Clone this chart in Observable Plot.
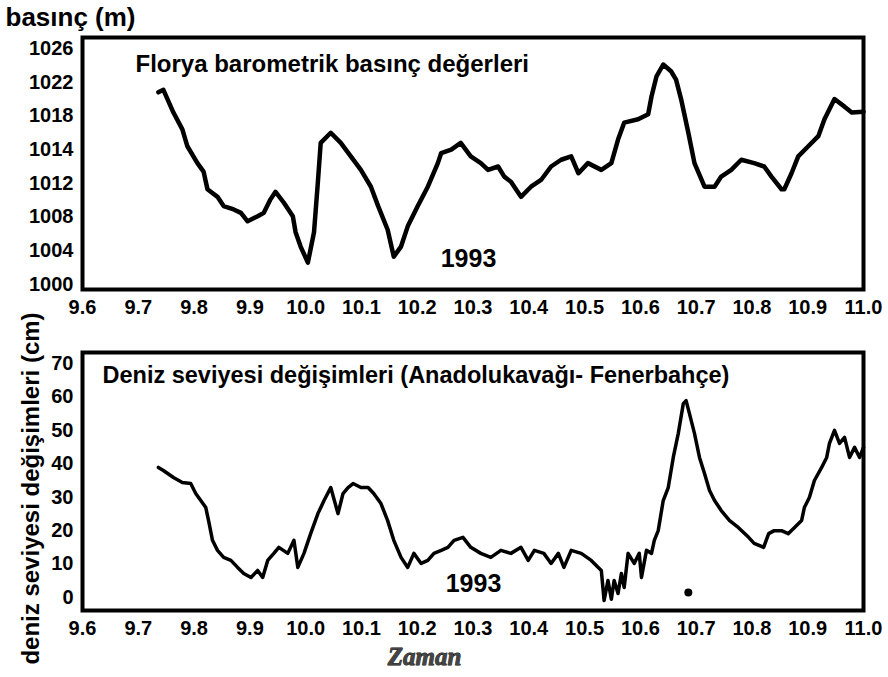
<!DOCTYPE html>
<html><head><meta charset="utf-8">
<script src="https://cdn.jsdelivr.net/npm/d3@7"></script>
<script src="https://cdn.jsdelivr.net/npm/@observablehq/plot@0.6"></script>
<style>
body{margin:0;background:#fff;}
#wrap{position:relative;width:888px;height:677px;background:#fff;overflow:hidden;}
#wrap svg{position:absolute;left:0;}
</style></head><body><div id="wrap"></div>
<script>
const FONT = '"Liberation Sans", Arial, sans-serif';

const xTicks = [9.6, 9.7, 9.8, 9.9, 10.0, 10.1, 10.2, 10.3, 10.4, 10.5, 10.6, 10.7, 10.8, 10.9, 11.0];
const pressureTicks = [1000, 1004, 1008, 1012, 1014, 1018, 1022, 1026];
const seaTicks = [0, 10, 20, 30, 40, 50, 60, 70];

const pressureYLabel = "basınç (m)";
const pressureTitle = "Florya barometrik basınç değerleri";
const seaTitle = "Deniz seviyesi değişimleri (Anadolukavağı- Fenerbahçe)";
const seaYLabel = "deniz seviyesi değişimleri (cm)";
const yearLabel = "1993";
const xLabel = "Zaman";

const pressureTime = [9.736,9.745,9.763,9.779,9.788,9.806,9.817,9.824,9.842,9.853,
 9.871,9.884,9.896,9.914,9.925,9.937,9.946,9.961,9.977,9.982,
 9.991,10.004,10.015,10.022,10.027,10.045,10.063,10.081,10.099,10.117,
 10.130,10.147,10.158,10.171,10.183,10.201,10.219,10.237,10.243,10.261,
 10.278,10.296,10.314,10.327,10.345,10.356,10.368,10.386,10.404,10.422,
 10.440,10.458,10.476,10.489,10.506,10.530,10.548,10.560,10.571,10.596,
 10.614,10.620,10.629,10.641,10.655,10.664,10.673,10.686,10.697,10.715,
 10.733,10.745,10.763,10.781,10.804,10.822,10.835,10.853,10.858,10.871,
 10.883,10.901,10.919,10.930,10.948,10.966,10.979,11.0];
const pressureValue = [1020.8,1021.1,1018.4,1016.4,1014.4,1013.2,1012.7,1011.3,1010.4,1009.3,
 1008.9,1008.5,1007.5,1008.1,1008.5,1010.1,1011.0,1009.7,1008.1,1006.2,
 1004.5,1002.6,1006.2,1012.1,1014.8,1016.0,1014.8,1013.6,1012.8,1011.6,
 1009.3,1006.5,1003.3,1004.5,1006.9,1009.3,1011.6,1013.2,1013.8,1014.0,
 1014.8,1013.6,1013.2,1012.8,1013.0,1012.4,1012.1,1010.4,1011.6,1012.2,
 1013.0,1013.4,1013.6,1012.6,1013.2,1012.8,1013.2,1015.2,1017.2,1017.6,
 1018.2,1020.3,1022.7,1024.1,1023.3,1022.3,1020.0,1016.0,1013.2,1011.6,
 1011.6,1012.4,1012.8,1013.4,1013.2,1013.0,1012.4,1011.3,1011.3,1012.6,
 1013.6,1014.4,1015.6,1017.6,1020.0,1019.1,1018.4,1018.5];

const seaTime = [9.736,9.745,9.763,9.779,9.794,9.803,9.812,9.821,9.826,9.833,
 9.842,9.853,9.866,9.878,9.889,9.902,9.914,9.923,9.932,9.943,
 9.952,9.968,9.979,9.986,9.997,10.009,10.022,10.033,10.045,10.058,
 10.067,10.076,10.085,10.099,10.112,10.122,10.135,10.147,10.158,10.171,
 10.183,10.194,10.207,10.219,10.230,10.243,10.255,10.266,10.282,10.296,
 10.314,10.332,10.350,10.368,10.386,10.399,10.410,10.427,10.440,10.453,
 10.463,10.476,10.494,10.512,10.530,10.535,10.542,10.548,10.553,10.560,
 10.566,10.571,10.578,10.589,10.598,10.602,10.611,10.620,10.625,10.632,
 10.641,10.650,10.659,10.668,10.677,10.682,10.688,10.697,10.706,10.715,
 10.724,10.733,10.745,10.760,10.776,10.794,10.804,10.821,10.830,10.840,
 10.853,10.865,10.876,10.889,10.894,10.903,10.912,10.925,10.934,10.939,
 10.948,10.957,10.966,10.975,10.984,10.993,11.0];
const seaValue = [38.9,38.0,35.9,34.4,34.1,31.1,29.0,26.9,23.0,17.1,
 14.1,12.0,11.1,9.0,7.2,6.0,8.1,6.0,11.1,13.2,
 15.0,13.2,17.1,9.0,13.2,19.1,25.1,29.0,32.9,25.1,
 31.1,32.9,34.1,32.9,32.9,31.1,28.1,23.0,17.1,12.0,
 9.0,13.2,10.2,11.1,13.2,14.1,15.0,17.1,18.0,15.0,
 13.2,12.0,14.1,13.2,15.0,11.1,14.1,13.2,10.2,13.2,
 9.0,14.1,13.2,11.1,8.1,-0.9,5.1,-0.5,5.1,1.2,
 7.2,3.0,13.2,10.2,13.2,6.0,14.1,13.2,17.1,20.0,
 29.0,32.9,41.9,49.1,58.0,58.9,55.0,49.1,41.9,37.1,
 32.0,29.0,26.0,23.0,20.9,18.0,16.2,15.0,19.1,20.0,
 20.0,19.1,20.9,23.0,26.9,29.9,35.0,38.9,41.9,46.1,
 50.0,46.1,47.9,41.9,44.9,41.9,44.9];

const markerTime = [10.686];
const markerValue = [1.5];

const pressure = pressureTime.map((t, i) => ({t, v: pressureValue[i]}));
const sea = seaTime.map((t, i) => ({t, v: seaValue[i]}));
const marker = markerTime.map((t, i) => ({t, v: markerValue[i]}));

// The original axis labels are evenly spaced though their values are not (1012 → 1014):
// map pressure values piecewise onto the tick index, then let Plot scale the index.
const tickIndex = d3.scaleLinear().domain(pressureTicks).range(pressureTicks.map((_, i) => i));
const tickIdx = pressureTicks.map((_, i) => i);

const baseStyle = {fontFamily: FONT, fontWeight: "bold", fontSize: "20px", background: "transparent", color: "black", overflow: "visible"};
const fmt = d => d.toFixed(1);

const p1 = Plot.plot({
  width: 888, height: 320,
  marginLeft: 82, marginRight: 25, marginTop: 37, marginBottom: 31,
  style: baseStyle,
  x: {domain: [9.6, 11.0], ticks: xTicks, tickFormat: fmt, tickSize: 0, tickPadding: 10, label: null},
  y: {domain: [0, tickIdx.length - 1], range: [284, 48], ticks: tickIdx, tickFormat: i => String(pressureTicks[i]), tickSize: 0, tickPadding: 9, label: null},
  marks: [
    Plot.frame({stroke: "black", strokeWidth: 4}),
    Plot.line(pressure, {x: "t", y: d => tickIndex(d.v), stroke: "black", strokeWidth: 4.5, strokeLinejoin: "round"}),
    Plot.text([pressureYLabel], {frameAnchor: "top-left", dx: -77, dy: -20, textAnchor: "start", lineAnchor: "middle", fontSize: 26}),
    Plot.text([pressureTitle], {frameAnchor: "top-left", dx: 53, dy: 27, textAnchor: "start", lineAnchor: "middle", fontSize: 24}),
    Plot.text([yearLabel], {frameAnchor: "bottom-left", dx: 386, dy: -31, textAnchor: "middle", lineAnchor: "middle", fontSize: 25})
  ]
});
p1.style.top = "0px";

const p2 = Plot.plot({
  width: 888, height: 377,
  marginLeft: 82, marginRight: 25, marginTop: 52, marginBottom: 67,
  style: baseStyle,
  x: {domain: [9.6, 11.0], ticks: xTicks, tickFormat: fmt, tickSize: 0, tickPadding: 10, label: null},
  y: {domain: [0, 70], range: [297, 63], ticks: seaTicks, tickSize: 0, tickPadding: 9, label: null},
  marks: [
    Plot.frame({stroke: "black", strokeWidth: 4}),
    Plot.line(sea, {x: "t", y: "v", stroke: "black", strokeWidth: 3.5, strokeLinejoin: "round"}),
    Plot.dot(marker, {x: "t", y: "v", r: 4, fill: "black"}),
    Plot.text([seaTitle], {frameAnchor: "top-left", dx: 20, dy: 23, textAnchor: "start", lineAnchor: "middle", fontSize: 23.5}),
    Plot.text([yearLabel], {frameAnchor: "bottom-left", dx: 391, dy: -27, textAnchor: "middle", lineAnchor: "middle", fontSize: 25}),
    Plot.text([seaYLabel], {frameAnchor: "left", rotate: -90, dx: -51, dy: 7, textAnchor: "middle", lineAnchor: "middle", fontSize: 24}),
    Plot.text([xLabel], {frameAnchor: "bottom-left", dx: 342, dy: 46, textAnchor: "middle", lineAnchor: "middle", fontSize: 25, fontFamily: '"Liberation Serif", serif', fontStyle: "italic", fill: "#444", stroke: "black", strokeWidth: 0.8})
  ]
});
p2.style.top = "300px";

const wrap = document.getElementById("wrap");
wrap.appendChild(p1);
wrap.appendChild(p2);
</script>
</body></html>
